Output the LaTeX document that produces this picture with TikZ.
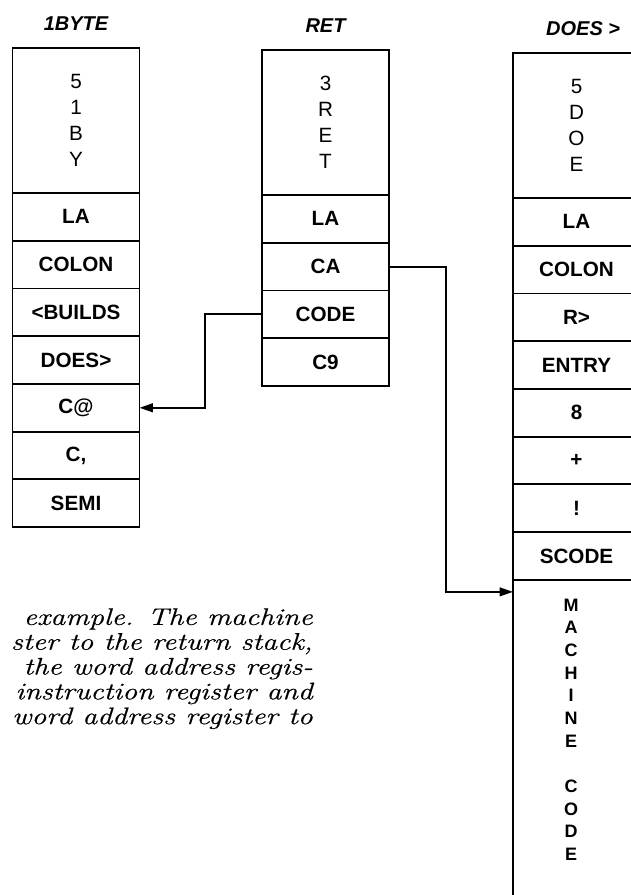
\documentclass[tikz,border=0pt]{standalone}
\usepackage{fontspec}
\setsansfont{Liberation Sans}
\newfontfamily\capfont[FakeStretch=1.24, FakeBold=0.6]{Latin Modern Roman}
\usetikzlibrary{arrows.meta, positioning}
\tikzset{
  cell/.style={
    draw, line width=1.4pt,
    minimum width=95.25pt, minimum height=35.8pt,
    inner sep=0pt, outer sep=0pt,
    font=\fontsize{15.5}{18}\selectfont\sffamily\bfseries,
  },
  head/.style={
    cell, minimum height=108.75pt, align=center,
    font=\fontsize{15.5}{19.5}\selectfont\sffamily,
  },
  ttl/.style={font=\fontsize{15}{17}\selectfont\sffamily\bfseries\itshape, inner sep=0pt},
  arr/.style={
    -{Triangle[length=10pt,width=6.5pt]},
    line width=1.4pt,
  },
}

\begin{document}
\begin{tikzpicture}[x=0.75pt, y=-0.75pt]
\useasboundingbox (0,0) rectangle (631,895);

%% ── 1BYTE ─────────────────────────────────────────────────
\node[head, anchor=north] (byhead) at (76,48) {5\\1\\B\\Y};
\node[ttl, above=13pt of byhead] (bytitle) {1BYTE};
\node[cell, below=0pt of byhead]   (byla)     {LA};
\node[cell, below=0pt of byla]     (bycolon)  {COLON};
\node[cell, below=0pt of bycolon]  (bybuilds) {<BUILDS};
\node[cell, below=0pt of bybuilds] (bydoes)   {DOES>};
\node[cell, below=0pt of bydoes]   (byfetch)  {C@};
\node[cell, below=0pt of byfetch]  (bycomma)  {C,};
\node[cell, below=0pt of bycomma]  (bysemi)   {SEMI};

%% ── RET ───────────────────────────────────────────────────
\node[head, anchor=north] (rethead) at (325.5,50) {3\\R\\E\\T};
\node[ttl, above=13pt of rethead] (rettitle) {RET};
\node[cell, below=0pt of rethead]  (retla)   {LA};
\node[cell, below=0pt of retla]    (retca)   {CA};
\node[cell, below=0pt of retca]    (retcode) {CODE};
\node[cell, below=0pt of retcode]  (retcn)   {C9};

%% ── DOES> ─────────────────────────────────────────────────
\node[head, anchor=north] (dohead) at (576.5,53) {5\\D\\O\\E};
\node[ttl, above=13pt of dohead, xshift=5pt] (dotitle) {DOES >};
\node[cell, below=0pt of dohead]   (dola)    {LA};
\node[cell, below=0pt of dola]     (docolon) {COLON};
\node[cell, below=0pt of docolon]  (dofrom)  {R>};
\node[cell, below=0pt of dofrom]   (doentry) {ENTRY};
\node[cell, below=0pt of doentry]  (doeight) {8};
\node[cell, below=0pt of doeight]  (doplus)  {+};
\node[cell, below=0pt of doplus]   (dostore) {!};
\node[cell, below=0pt of dostore]  (doscode) {SCODE};
\node[cell, below=0pt of doscode, minimum height=255pt] (domach) {};
\node[anchor=north, inner sep=0pt, align=center,
      font=\fontsize{13.5}{17}\selectfont\sffamily\bfseries]
  (domachtext) at ([xshift=-4pt, yshift=-14pt]domach.north)
  {M\\A\\C\\H\\I\\N\\E\\[17pt]C\\O\\D\\E};

%% ── Arrows ────────────────────────────────────────────────
\draw[arr] (retcode.west) -- ++(-57,0) |- (byfetch.east);
\draw[arr] (retca.east)   -- ++(57,0)  |- ([yshift=-9pt]domach.north west);

%% ── Caption text ──────────────────────────────────────────
\node[font=\capfont\itshape\fontsize{18}{18.6}\selectfont, align=right,
      anchor=north east, inner sep=0pt] (caption) at (313,608)
  {example. The machine\\
   ster to the return stack,\\
   the word address regis-\\
   instruction register and\\
   word address register to};

\end{tikzpicture}
\end{document}
